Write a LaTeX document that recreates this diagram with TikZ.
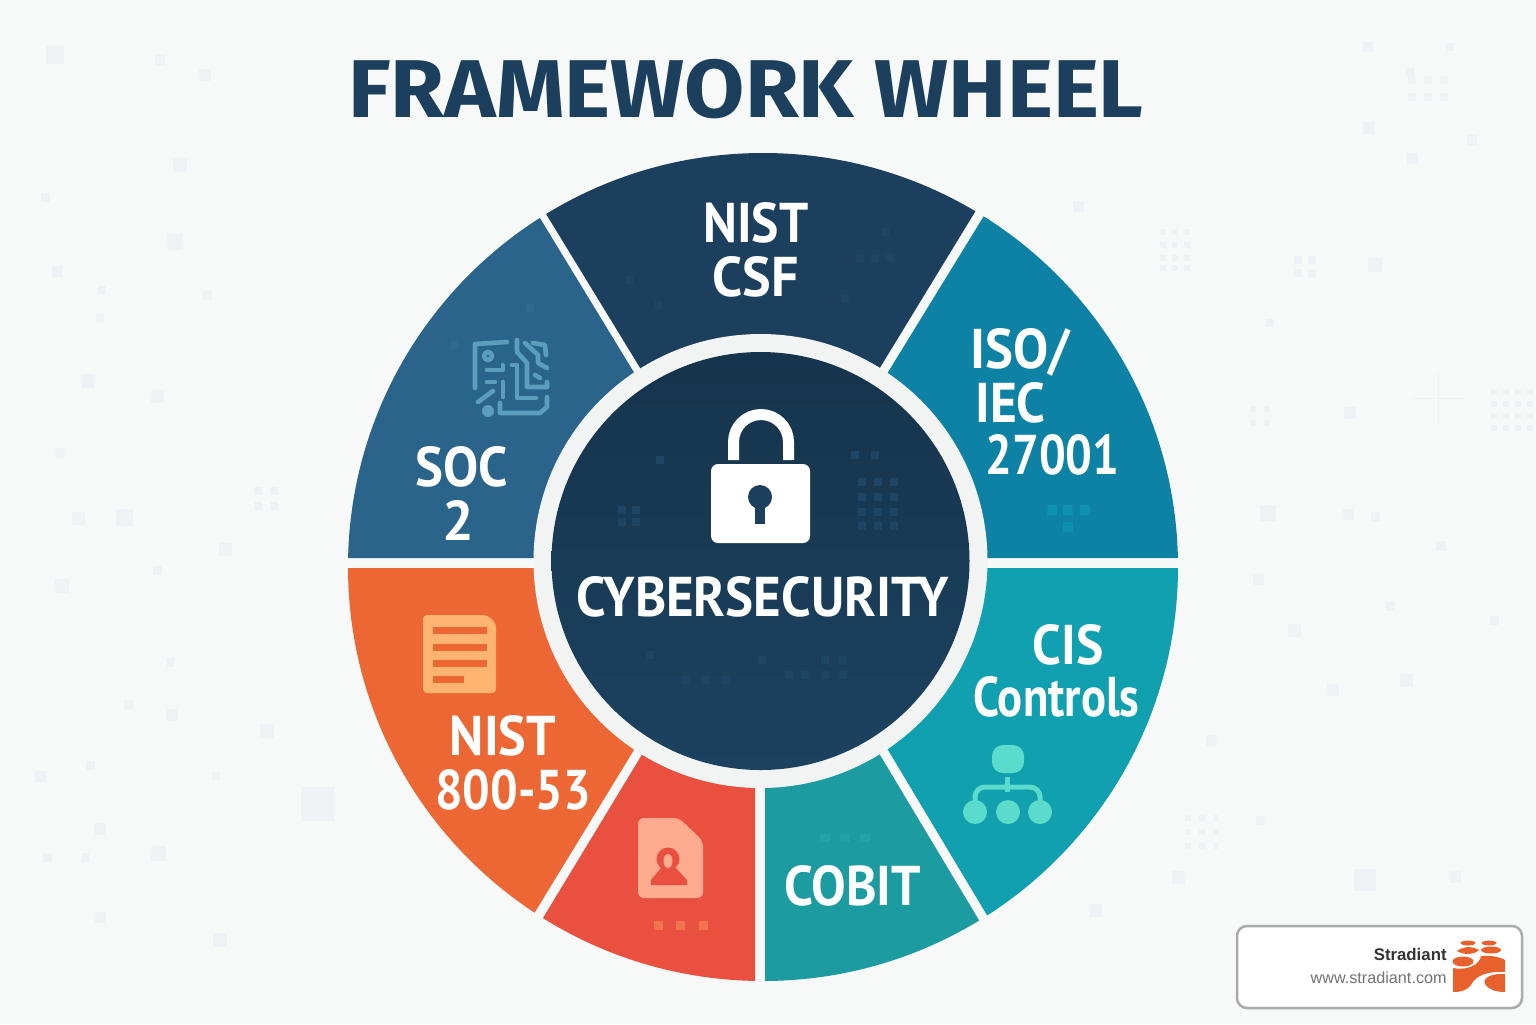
\documentclass[tikz,border=0pt]{standalone}
\usepackage{fontspec}
\setmainfont{PT Sans}
\newfontfamily\logofont{Liberation Sans}
\newfontfamily\titlefont{Fira Sans}
\definecolor{bgc}{HTML}{F7F8F8}
\definecolor{ringc}{HTML}{F2F3F3}
\definecolor{bgsq}{HTML}{EEF2F4}
\definecolor{navy}{HTML}{1B3F5C}
\definecolor{navytop}{HTML}{16344C}
\definecolor{navybot}{HTML}{1C4260}
\definecolor{csfc}{HTML}{1C3F5D}
\definecolor{socc}{HTML}{2B648B}
\definecolor{isoc}{HTML}{0E82A4}
\definecolor{cisc}{HTML}{11A0B0}
\definecolor{cobc}{HTML}{1C9CA0}
\definecolor{redc}{HTML}{E9503F}
\definecolor{orgc}{HTML}{EC6733}
\definecolor{circ}{HTML}{5A9DBD}
\definecolor{hier}{HTML}{5ADBCB}
\definecolor{lgo}{HTML}{E8602C}
\newcommand\sq[2]{\scalebox{#1}[1]{#2}}
\tikzset{
  lab/.style={text=white,font=\fontsize{28}{30}\selectfont\bfseries,inner sep=0pt},
  wire/.style={circ,line width=2.3pt,line cap=round,line join=round},
}
\begin{document}
\begin{tikzpicture}[x=0.5pt,y=-0.5pt]
\useasboundingbox (0,0) rectangle (1536,1024);
\fill[bgc] (0,0) rectangle (1536,1024);
% background squares
\foreach \x/\y/\s in {55/55/18,160/60/10,205/75/12,180/165/14,45/197/9,175/242/16,57/271/11,102/290/8,100/318/8,207/295/9,157/396/13,88/381/14,60/453/10,78/518/13,124/517/17,225/549/13,62/586/14,157/570/9,170/662/9,128/704/9,172/715/12,267/731/14,40/776/11,90/765/9,216/776/8,100/829/12,158/853/15,47/857/9,85/857/9,100/917/11,220/940/14,318/804/34,
1368/47/10,1450/47/8,1410/72/9,1412/158/11,1472/140/10,1369/128/12,1078/206/11,1375/265/14,1270/323/8,1350/413/12,1268/513/16,1348/514/11,1375/516/9,1441/546/10,1258/579/11,1390/606/9,1294/630/13,1406/680/13,1333/690/12,1211/740/11,1494/620/9,1365/880/22,1455/877/12,1178/877/13,1095/910/13,1260/820/9}
  \fill[bgsq] (\x-\s/2,\y-\s/2) rectangle (\x+\s/2,\y+\s/2);
\foreach \x in {1163,1175,1187} \foreach \y in {232,245,258,268} \fill[bgsq] (\x-3,\y-3) rectangle +(6,6);
\foreach \x in {1494,1506,1518,1530} \foreach \y in {392,404,416,428} \fill[bgsq] (\x-3,\y-3) rectangle +(6,6);
\foreach \x in {1412,1428,1444} \foreach \y in {80,97} \fill[bgsq] (\x-4,\y-4) rectangle +(8,8);
\foreach \x in {1188,1202,1216} \foreach \y in {818,832,846} \fill[bgsq] (\x-3,\y-3) rectangle +(6,6);
\foreach \x in {1298,1312} \foreach \y in {260,273} \fill[bgsq] (\x-4,\y-4) rectangle +(8,8);
\foreach \x in {258,274} \foreach \y in {491,506} \fill[bgsq] (\x-4,\y-4) rectangle +(8,8);
\foreach \x in {1253,1267} \foreach \y in {409,423} \fill[bgsq] (\x-3,\y-3) rectangle +(6,6);
\draw[bgsq,line width=.5pt] (1438,372)--(1438,424) (1412,398)--(1464,398);
% title
\node[text=navy,inner sep=0pt,font=\titlefont\fontsize{41}{44}\selectfont\bfseries] (title) at (746,89) {\sq{1.065}{FRAMEWORK WHEEL}};
% wheel segments
\begin{scope}
\clip (763,567) ellipse [x radius=415,y radius=414];
\fill[csfc] (758,561)--(485,114)--(1036,112)--(762,561)--cycle;
\fill[socc] (747,558)--(479,118)--(200,118)--(200,558)--cycle;
\fill[isoc] (774,558)--(1044,118)--(1300,118)--(1300,558)--cycle;
\fill[cisc] (779,568)--(1300,568)--(1300,1012)--(1045,1012)--cycle;
\fill[cobc] (765,568)--(768,568)--(1040,1022)--(765,1022)--cycle;
\fill[redc] (755,568)--(755,1022)--(480,1022)--cycle;
\fill[orgc] (745,568)--(200,568)--(200,1012)--(474,1012)--cycle;
\end{scope}
% faint squares in segments
\foreach \x/\y in {860/258,875/258,890/258,845/298,658/305,630/280,886/232} \fill[socc!15!csfc] (\x-4,\y-4) rectangle +(8,8);
\foreach \x/\y in {530/308,455/345} \fill[socc!90!circ] (\x-4,\y-4) rectangle +(8,8);
\foreach \x/\y in {1052/510,1068/510,1085/510,1068/527} \fill[isoc!88!cyan] (\x-5,\y-5) rectangle +(10,10);
\foreach \x/\y in {825/838,845/838,865/838} \fill[cobc!88!hier] (\x-5,\y-4) rectangle +(10,8);
% centre
\fill[ringc] (760.5,561) circle [radius=227];
\shade[top color=navytop,bottom color=navybot] (760.5,561) circle [radius=209];
\foreach \x in {862,878,894} \foreach \y in {482,497,512,526} \fill[socc!18!navy] (\x-4,\y-4) rectangle +(8,8);
\foreach \x in {622,636} \foreach \y in {510,522} \fill[socc!18!navy] (\x-4,\y-4) rectangle +(8,8);
\foreach \x/\y in {685/680,705/680,725/680,790/675,805/675,825/675,843/675,762/660,825/660,843/660,650/655,660/460,855/455,875/455} \fill[socc!18!navy] (\x-4,\y-4) rectangle +(8,8);
% lock
\draw[white,line width=5.5pt] (733.5,460)--(733.5,442) arc[start angle=180,end angle=360,radius=27.5]--(788.5,460);
\fill[white,rounded corners=3.5pt] (711,464) rectangle (810,543);
\fill[navy] (760,497) circle [radius=12];
\fill[navy] (755,497) rectangle (765,524);
\node[lab] (cyber) at (763,597) {\sq{.946}{CYBERSECURITY}};
% circuit icon
\draw[wire] (507,342)--(475,344)--(475,388);
\draw[wire] (488,356) circle [radius=4];
\fill[circ] (488,411) circle [radius=6];
\draw[wire] (487,370)--(503,370)--(503,365);
\draw[wire] (487,382)--(495,382);
\draw[wire] (478,402)--(493,391);
\draw[wire] (503,397)--(503,382);
\draw[wire] (512,365)--(517,365)--(517,398)--(536,398);
\draw[wire] (517,340)--(517,352)--(527,363)--(527,387)--(547,387)--(547,382);
\draw[wire] (525,343)--(538,355)--(538,363)--(547,368);
\draw[wire] (533,343)--(545,345)--(546,355);
\draw[wire] (535,375)--(540,378);
\draw[wire] (500,403)--(500,413)--(540,413)--(547,407)--(547,397);
% document icon
\fill[rounded corners=2pt,fill={rgb,255:red,255;green,180;blue,113}] (423,615)--(487,615)--(496,623)--(496,693)--(423,693)--cycle;
\foreach \y/\w in {627/54,644/54,660/54,676/31} \fill[orgc] (433,\y) rectangle +(\w,7);
% id document icon
\fill[rounded corners=3pt,fill={rgb,255:red,255;green,171;blue,144}] (638,818)--(679,818)--(703,841)--(703,898)--(638,898)--cycle;
\fill[redc] (668,859) circle [radius=11.5];
\fill[redc] (651,885)--(651,880)--(661,868)--(676,868)--(687,880)--(687,885)--cycle;
\fill[fill={rgb,255:red,255;green,171;blue,144}] (668,861) ellipse [x radius=4.5,y radius=7];
\foreach \x in {658,680,703} \fill[redc!75!orange!85!white] (\x-4.5,921) rectangle +(9,9);
% hierarchy icon
\fill[hier,rounded corners=5.5pt] (992,745) rectangle (1024,773);
\draw[hier,line width=2.5pt] (1007.5,777)--(1007.5,792);
\draw[hier,line width=2.5pt,rounded corners=5pt] (975,805)--(975,787)--(1040,787)--(1040,805);
\foreach \x in {975,1008,1040} \fill[hier] (\x,812) circle [radius=12];
% labels
\node[lab] (csfa) at (756,223) {\sq{.92}{NIST}};
\node[lab] (csfb) at (755.5,277) {\sq{.965}{CSF}};
\node[lab] (isoa) at (1020,352) {\sq{.94}{ISO/}};
\node[lab] (isob) at (1010.5,403) {\sq{.92}{IEC}};
\node[lab] (isoc) at (1052.5,455) {\sq{.843}{27001}};
\node[lab] (soca) at (461.5,467) {\sq{.94}{SOC}};
\node[lab] (socb) at (458,520) {2};
\node[lab] (nsta) at (503,736) {\sq{.93}{NIST}};
\node[lab] (nstb) at (513,790) {\sq{.87}{800-53}};
\node[lab] (cobit) at (852.5,886) {\sq{.925}{COBIT}};
\node[lab] (cisa) at (1068,645) {\sq{.92}{CIS}};
\node[lab] (cisb) at (1056.5,697) {\sq{.833}{Controls}};
% logo card
\draw[fill=white,draw=black!33,line width=1.25pt,rounded corners=5pt] (1237,926) rectangle (1522,1008);
\node[anchor=east,inner sep=0pt,text=black!80,font=\logofont\fontsize{8.4}{10}\selectfont\bfseries] (brand) at (1447,954) {Stradiant};
\node[anchor=east,inner sep=0pt,text=black!55,font=\logofont\fontsize{8.1}{10}\selectfont] (url) at (1447,978) {www.stradiant.com};
\fill[lgo] (1468,943) ellipse [x radius=7.5,y radius=2.4];
\fill[lgo] (1489,943) ellipse [x radius=7.5,y radius=2.4];
\fill[lgo] (1491,950) ellipse [x radius=10,y radius=3.5];
\fill[lgo] (1457,951) .. controls (1465,945) and (1474,947) .. (1479,950) .. controls (1474,955) and (1463,955) .. (1457,951)--cycle;
\fill[lgo] (1463,961.5) ellipse [x radius=10.5,y radius=5];
\fill[lgo] (1453,968) .. controls (1466,971) and (1480,965) .. (1481,956) .. controls (1490,955) and (1500,957) .. (1505,960)
  -- (1505,972) .. controls (1488,971) and (1476,975) .. (1471,985) .. controls (1466,991) and (1460,992) .. (1453,992)--cycle;
\fill[lgo] (1505,974) .. controls (1492,973) and (1482,978) .. (1485,984) .. controls (1488,989) and (1495,992) .. (1505,992)--cycle;
\end{tikzpicture}
\end{document}
